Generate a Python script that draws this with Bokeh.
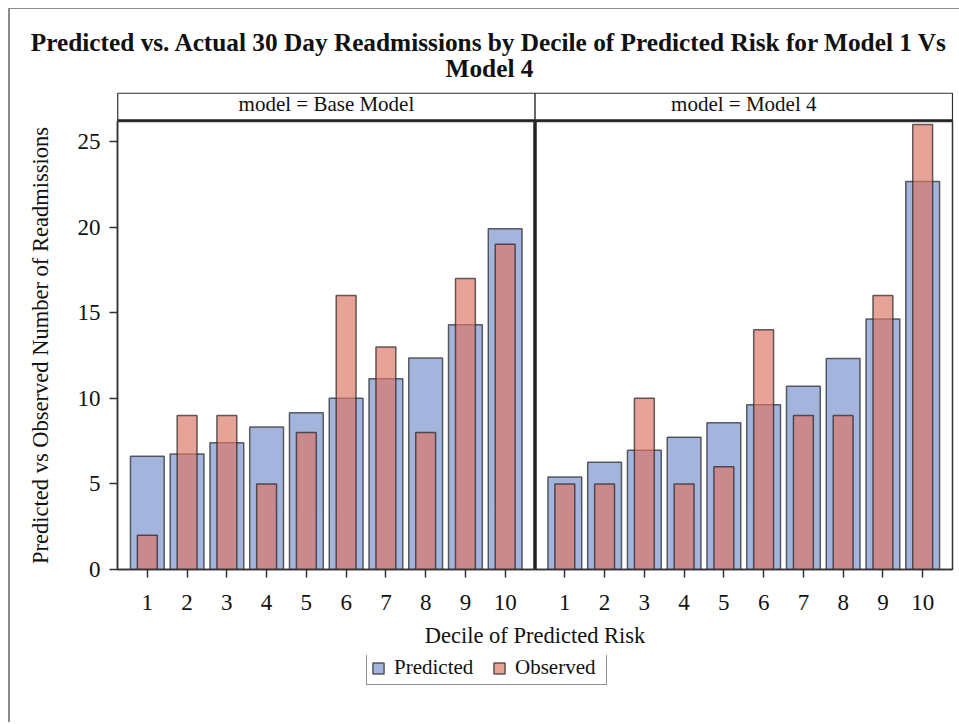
from bokeh.plotting import figure
from bokeh.layouts import column
from bokeh.models import (Range1d, FixedTicker, Legend, LegendItem,
                          ColumnDataSource)
from bokeh.core.properties import value
from bokeh.embed import file_html
from bokeh.resources import INLINE

# ---------------- data ----------------
title_lines = ["Predicted vs. Actual 30 Day Readmissions by Decile of Predicted Risk for Model 1 Vs",
               "Model 4"]
panel_labels = ["model = Base Model", "model = Model 4"]
deciles = [1, 2, 3, 4, 5, 6, 7, 8, 9, 10]
base_predicted = [6.62, 6.74, 7.40, 8.33, 9.15, 10.0, 11.14, 12.36, 14.29, 19.9]
base_observed = [2, 9, 9, 5, 8, 16, 13, 8, 17, 19]
m4_predicted = [5.41, 6.27, 6.97, 7.73, 8.57, 9.62, 10.71, 12.32, 14.64, 22.66]
m4_observed = [5, 5, 10, 5, 6, 14, 9, 9, 16, 26]
y_ticks = [0, 5, 10, 15, 20, 25]
x_label = "Decile of Predicted Risk"
y_label = "Predicted vs Observed Number of Readmissions"
legend_labels = ["Predicted", "Observed"]

# ---------------- layout constants ----------------
FONT = "Liberation Serif"
BORDER = "2px solid #8c8c8c"
W = 951                 # incl. 2px left border (border-box)
CW = W - 2              # canvas width
TOP_H = 113             # incl. 1px top border -> canvas height 112
MAIN_H = 534
BOT_H = 67
ML, MR, MT, MB = 107, 9, 0, 86
frame_w = CW - ML - MR
y_top = 26.17

offset = len(deciles) + 0.5
pad = 0.75
x_lo = deciles[0] - pad
x_mid = deciles[-1] + pad
x_hi = deciles[-1] + offset + pad

pred_color = (118, 143, 204)
obs_color = (221, 118, 101)
alpha = 0.67
bar_line = dict(line_color="#222222", line_alpha=0.7, line_width=1.5)

# ---------------- title + panel header strip ----------------
TC = TOP_H - 1
top = figure(width=W, height=TOP_H, x_range=Range1d(0, CW), y_range=Range1d(TC, 0),
             output_backend="svg", toolbar_location=None, title=None,
             x_axis_location=None, y_axis_location=None,
             min_border=0, outline_line_color=None, frame_align=False,
             styles={"border-left": BORDER, "border-top": "1px solid #8c8c8c"})
top.grid.visible = False
top.text(x=[478, 478], y=[32, 58], text=title_lines,
         text_font=value(FONT), text_font_style="bold", text_font_size="25.3px",
         text_color="#111111", text_align="center", text_baseline="alphabetic")

h_left = ML
h_right = ML + frame_w
h_mid = ML + (x_mid - x_lo) / (x_hi - x_lo) * frame_w
top.quad(left=[h_left, h_mid], right=[h_mid, h_right], top=[83, 83], bottom=[TC, TC],
         fill_color="white", line_color="#333333", line_width=1.2)
top.segment(x0=[h_left], x1=[h_right], y0=[TC - 1.5], y1=[TC - 1.5],
            line_color="#222222", line_width=3.5)
top.text(x=[(h_left + h_mid) / 2, (h_mid + h_right) / 2], y=[94, 94], text=panel_labels,
         text_font=value(FONT), text_font_size="21px", text_color="#111111",
         text_align="center", text_baseline="alphabetic")

# ---------------- main panel plot ----------------
p = figure(width=W, height=MAIN_H, x_range=Range1d(x_lo, x_hi), y_range=Range1d(0, y_top),
           output_backend="svg", toolbar_location=None, title=None, frame_align=False,
           min_border_left=ML, min_border_right=MR, min_border_top=MT, min_border_bottom=MB,
           styles={"border-left": BORDER})
p.grid.visible = False
p.outline_line_color = "#333333"
p.outline_line_width = 1.5

xs_all = list(deciles) + [d + offset for d in deciles]
src = ColumnDataSource(dict(x=xs_all,
                            pred=base_predicted + m4_predicted,
                            obs=base_observed + m4_observed))

p.vbar(x="x", top="pred", bottom=0, width=0.85, source=src,
       fill_color=pred_color, fill_alpha=alpha, **bar_line)
p.vbar(x="x", top="obs", bottom=0, width=0.5, source=src,
       fill_color=obs_color, fill_alpha=alpha, **bar_line)
p.segment(x0=[x_mid], x1=[x_mid], y0=[0], y1=[y_top],
          line_color="#222222", line_width=3.5)

# axes
p.yaxis.ticker = FixedTicker(ticks=y_ticks)
p.xaxis.ticker = FixedTicker(ticks=xs_all)
p.xaxis.major_label_overrides = {x: str(d) for x, d in zip(xs_all, deciles + deciles)}
for ax in (p.xaxis[0], p.yaxis[0]):
    ax.major_tick_in = 0
    ax.major_tick_out = 8
    ax.minor_tick_line_color = None
    ax.major_tick_line_color = "#333333"
    ax.major_tick_line_width = 1.5
    ax.axis_line_color = "#333333"
    ax.axis_line_width = 1.5
    ax.major_label_text_font = FONT
    ax.major_label_text_font_size = "23px"
    ax.major_label_text_color = "#111111"
    ax.axis_label_text_font = FONT
    ax.axis_label_text_font_size = "22.5px"
    ax.axis_label_text_font_style = "normal"
    ax.axis_label_text_color = "#111111"
p.xaxis.axis_label = x_label
p.yaxis.axis_label = y_label
p.xaxis.major_label_standoff = 17
p.xaxis.axis_label_standoff = 10
p.yaxis.major_label_standoff = 9
p.yaxis.axis_label_standoff = 22

# ---------------- legend strip ----------------
# legend swatch renderers draw the same data, kept well outside this strip's view
bot = figure(width=W, height=BOT_H,
             x_range=Range1d(-10 * CW, -9 * CW), y_range=Range1d(-10 * BOT_H, -9 * BOT_H),
             output_backend="svg", toolbar_location=None, title=None,
             x_axis_location=None, y_axis_location=None,
             min_border=0, outline_line_color=None, frame_align=False,
             styles={"border-left": BORDER})
bot.grid.visible = False
lg_pred = bot.vbar(x="x", top="pred", bottom=0, width=0.85, source=src,
                   fill_color=pred_color, fill_alpha=alpha, **bar_line)
lg_obs = bot.vbar(x="x", top="obs", bottom=0, width=0.5, source=src,
                  fill_color=obs_color, fill_alpha=alpha, **bar_line)
legend = Legend(items=[LegendItem(label=legend_labels[0], renderers=[lg_pred]),
                       LegendItem(label=legend_labels[1], renderers=[lg_obs])],
                location=(356, 37), orientation="horizontal",
                glyph_width=14, glyph_height=14, label_height=22, label_width=87,
                label_standoff=9, spacing=11, padding=4, margin=0,
                label_text_font=FONT, label_text_font_size="21px",
                label_text_color="#111111",
                border_line_color="#222222", border_line_width=1.2,
                background_fill_color="white")
bot.add_layout(legend, "center")

layout = column(top, p, bot, spacing=0,
                styles={"margin-left": "8px", "margin-top": "8px"})

open("out.html", "w").write(file_html(layout, INLINE))
